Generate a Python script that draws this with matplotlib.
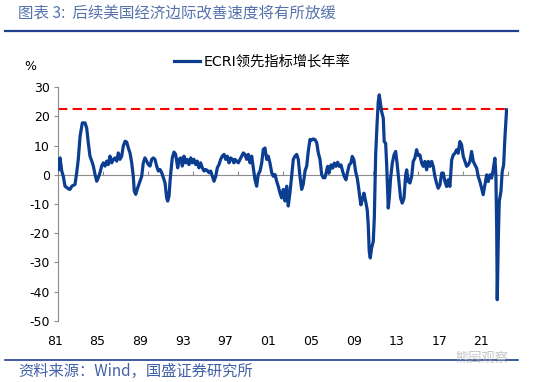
import matplotlib
matplotlib.use("Agg")
import matplotlib.pyplot as plt
import matplotlib.transforms as mtransforms
from matplotlib.lines import Line2D

plt.rcParams['font.family'] = ['Noto Sans CJK SC', 'DejaVu Sans']
plt.rcParams['axes.unicode_minus'] = False

# ECRI 领先指标增长年率 (%)
years = [
    1981.03, 1981.18, 1981.33, 1981.47, 1981.62, 1981.92, 1982.07, 1982.22, 1982.36, 1982.51,
    1982.66, 1982.80, 1982.96, 1983.16, 1983.40, 1983.55, 1983.69, 1983.84, 1984.00, 1984.14,
    1984.29, 1984.44, 1984.58, 1984.73, 1984.88, 1985.03, 1985.18, 1985.33, 1985.47, 1985.62,
    1985.77, 1985.92, 1986.07, 1986.22, 1986.36, 1986.51, 1986.66, 1986.80, 1986.96, 1987.11,
    1987.25, 1987.40, 1987.55, 1987.69, 1987.78, 1987.91, 1988.08, 1988.29, 1988.44, 1988.58,
    1988.73, 1988.88, 1989.03, 1989.18, 1989.33, 1989.47, 1989.62, 1989.77, 1989.92, 1990.07,
    1990.22, 1990.36, 1990.51, 1990.66, 1990.75, 1990.87, 1990.96, 1991.04, 1991.16, 1991.31,
    1991.46, 1991.55, 1991.64, 1991.76, 1991.91, 1992.05, 1992.20, 1992.35, 1992.49, 1992.64,
    1992.80, 1992.94, 1993.09, 1993.24, 1993.38, 1993.53, 1993.68, 1993.83, 1993.98, 1994.13,
    1994.27, 1994.42, 1994.57, 1994.72, 1994.87, 1995.02, 1995.16, 1995.31, 1995.46, 1995.60,
    1995.76, 1995.91, 1996.05, 1996.20, 1996.35, 1996.49, 1996.64, 1996.73, 1997.03, 1997.33,
    1997.47, 1997.62, 1997.77, 1997.92, 1998.07, 1998.22, 1998.36, 1998.51, 1998.66, 1998.80,
    1998.96, 1999.11, 1999.25, 1999.40, 1999.55, 1999.69, 1999.84, 2000.00, 2000.14, 2000.29,
    2000.44, 2000.58, 2000.73, 2000.88, 2001.03, 2001.18, 2001.33, 2001.47, 2001.62, 2001.77,
    2001.92, 2002.07, 2002.22, 2002.36, 2002.51, 2002.66, 2002.80, 2002.96, 2003.11, 2003.25,
    2003.40, 2003.55, 2003.69, 2003.84, 2004.00, 2004.14, 2004.29, 2004.44, 2004.58, 2004.73,
    2004.97, 2005.09, 2005.27, 2005.42, 2005.56, 2005.71, 2005.86, 2006.00, 2006.16, 2006.31,
    2006.45, 2006.60, 2006.75, 2006.89, 2007.04, 2007.16, 2007.31, 2007.46, 2007.60, 2007.69,
    2007.84, 2007.93, 2008.05, 2008.20, 2008.35, 2008.49, 2008.58, 2008.67, 2008.76, 2008.88,
    2009.03, 2009.12, 2009.24, 2009.36, 2009.47, 2009.56, 2009.68, 2009.77, 2009.92, 2010.00,
    2010.13, 2010.22, 2010.31, 2010.36, 2010.45, 2010.57, 2010.72, 2010.87, 2011.02, 2011.16,
    2011.31, 2011.46, 2011.60, 2011.76, 2011.91, 2012.00, 2012.14, 2012.29, 2012.44, 2012.58,
    2012.73, 2012.88, 2013.03, 2013.18, 2013.33, 2013.47, 2013.62, 2013.77, 2013.92, 2014.07,
    2014.22, 2014.36, 2014.51, 2014.66, 2014.80, 2014.96, 2015.11, 2015.25, 2015.40, 2015.55,
    2015.69, 2015.84, 2016.00, 2016.14, 2016.29, 2016.44, 2016.58, 2016.73, 2016.88, 2017.03,
    2017.18, 2017.33, 2017.47, 2017.62, 2017.77, 2017.92, 2018.07, 2018.22, 2018.36, 2018.51,
    2018.66, 2018.80, 2018.96, 2019.11, 2019.25, 2019.40, 2019.55, 2019.69, 2019.84, 2019.93,
    2020.00, 2020.05, 2020.14, 2020.23, 2020.38, 2020.49, 2020.62, 2020.73, 2020.88,
]
values = [
    1.8, 5.8, 1.3, -0.5, -3.9, -4.8, -5.0, -3.9, -3.6, -3.3,
    0.7, 5.3, 13.2, 17.8, 17.8, 16.0, 11.0, 6.4, 4.7, 3.0,
    0.1, -2.2, -1.0, 0.7, 3.0, 4.1, 3.0, 4.7, 3.5, 6.4,
    4.1, 5.3, 5.8, 4.7, 7.5, 5.3, 6.4, 9.8, 11.5, 11.2,
    9.2, 7.5, 4.1, -0.5, -5.6, -6.7, -4.5, -2.2, -0.5, 4.1,
    5.8, 4.7, 3.5, 3.0, 5.3, 5.8, 5.3, 3.0, 1.3, 1.8,
    0.7, -1.0, -2.7, -7.9, -9.0, -7.3, -2.2, 1.3, 5.8, 7.8,
    7.0, 4.7, 2.4, 5.3, 5.8, 3.0, 6.4, 4.1, 5.3, 3.5,
    5.8, 4.1, 5.3, 3.5, 4.7, 2.4, 4.1, 2.4, 1.3, 1.8,
    1.5, 0.7, 1.3, -0.5, -2.2, -0.5, 2.4, 3.5, 5.3, 6.4,
    7.0, 5.3, 6.4, 4.1, 5.8, 5.3, 4.1, 5.3, 4.1, 6.4,
    7.5, 7.0, 5.3, 7.0, 4.1, 6.4, 2.4, -1.6, -3.9, 0.1,
    1.3, 4.1, 8.7, 9.2, 5.3, 6.4, 4.1, 0.7, -0.5, 0.1,
    -2.2, -3.9, -6.2, -7.9, -5.0, -9.0, -3.9, -10.7, -6.2, -0.5,
    5.3, 6.4, 7.0, 5.3, -0.5, -5.0, -3.3, 1.3, 3.0, 8.1,
    12.1, 11.9, 12.3, 12.1, 11.0, 7.5, 5.3, 0.1, -1.0, -1.0,
    2.9, 0.6, 3.4, 2.3, 4.0, 2.9, 4.3, 2.9, 3.4, 1.1,
    -0.6, -1.7, 1.1, 3.4, 4.0, 6.3, 5.1, 1.1, -1.1, -3.4,
    -8.0, -10.3, -8.6, -6.3, -9.1, -12.0, -17.1, -26.3, -28.5, -25.1,
    -22.8, -14.8, 6.8, 17.1, 25.1, 27.4, 24.0, 21.7, 19.4, 11.4,
    10.8, 3.4, -6.8, -11.4, -8.0, -1.1, 4.0, 6.8, 8.0, 3.4,
    -2.3, -8.0, -9.7, -8.0, 0.0, 1.7, -2.3, -2.8, -0.6, 4.6,
    5.7, 8.6, 6.6, 6.8, 4.0, 2.9, 4.6, 1.7, 4.6, 2.9,
    4.6, 2.9, -0.6, -2.9, -4.6, -3.4, 0.6, 0.6, -2.3, -4.0,
    -1.7, -4.0, 5.1, 6.8, 7.4, 8.6, 7.4, 11.4, 10.3, 6.3,
    4.6, 2.9, 3.4, 4.6, 8.0, 4.6, 3.4, 2.3, -0.6, -2.3,
    -4.6, -6.8, -3.4, 0.0, -2.3, 0.0, -1.1, 1.7, 5.7, 0.0,
    -18.3, -42.8, -22.8, -9.1, -5.7, 1.1, 3.4, 12.6, 22.3,
]
latest_level = 22.6

tick_years = [1981, 1985, 1989, 1993, 1997, 2001, 2005, 2009, 2013, 2017, 2021]
label_years = [1980.73, 1984.52, 1988.3, 1992.1, 1995.9, 1999.7, 2003.5, 2007.3, 2011.1, 2014.9, 2018.6]
x_labels = ['81', '85', '89', '93', '97', '01', '05', '09', '13', '17', '21']
y_ticks = [30, 20, 10, 0, -10, -20, -30, -40, -50]

fig = plt.figure(figsize=(5.5, 3.82), dpi=100)
ax = fig.add_axes([0.1055, 0.1605, 0.818, 0.611])

line_color = '#0b3d91'
ax.plot(years, values, color=line_color, lw=2.3, solid_joinstyle='round', zorder=3)
ax.axhline(latest_level, color='#ff0000', lw=1.5, ls=(0, (4.5, 2.5)), zorder=2)

ax.set_xlim(1981, 2021)
ax.set_ylim(-50, 30)
ax.set_yticks(y_ticks)
ax.set_yticklabels([str(v) for v in y_ticks], family='DejaVu Sans', fontsize=9)

for side in ['top', 'right']:
    ax.spines[side].set_visible(False)
ax.spines['left'].set_color('#8c8c8c')
ax.spines['bottom'].set_color('#8c8c8c')
ax.spines['bottom'].set_position(('data', 0))
ax.spines['bottom'].set_zorder(1)
ax.set_xticks(tick_years)
ax.tick_params(axis='x', direction='in', length=3, color='#8c8c8c', labelbottom=False)
ax.tick_params(axis='y', direction='out', length=3, color='#8c8c8c', pad=3)

trans = mtransforms.blended_transform_factory(ax.transData, ax.transAxes)
for yr, lab in zip(label_years, x_labels):
    ax.text(yr, -0.09, lab, transform=trans, ha='center', va='center',
            fontsize=9, family='DejaVu Sans')

fig.text(30 / 550, 1 - 66 / 382, '%', ha='center', va='center', fontsize=9, family='DejaVu Sans')

handle = Line2D([], [], color=line_color, lw=2.3)
fig.legend([handle], ['ECRI领先指标增长年率'], loc='center left',
           bbox_to_anchor=(174 / 550, 1 - 62 / 382), frameon=False,
           handlelength=1.8, handletextpad=0.3, borderpad=0, borderaxespad=0,
           prop={'family': ['DejaVu Sans', 'Noto Sans CJK SC'], 'size': 10.3})

# header and footer
fig.text(18 / 550, 1 - 14 / 382, '图表 3:  后续美国经济边际改善速度将有所放缓',
         ha='left', va='center', fontsize=11.2, color='#5673ac', style='italic')
fig.add_artist(Line2D([5 / 550, 518 / 550], [1 - 31 / 382] * 2, color='#1f3f8f', lw=1.6))
fig.add_artist(Line2D([5 / 550, 518 / 550], [1 - 360 / 382] * 2, color='#1f3f8f', lw=1.2))
fig.text(18 / 550, 1 - 371 / 382, '资料来源：Wind，国盛证券研究所',
         ha='left', va='center', fontsize=11, color='#4262a6', style='italic')
fig.text(455 / 550, 1 - 358 / 382, '熊园观察', ha='left', va='center',
         fontsize=9.5, color='#b8b8b8', alpha=0.8)

fig.savefig('out.png', dpi=100)
